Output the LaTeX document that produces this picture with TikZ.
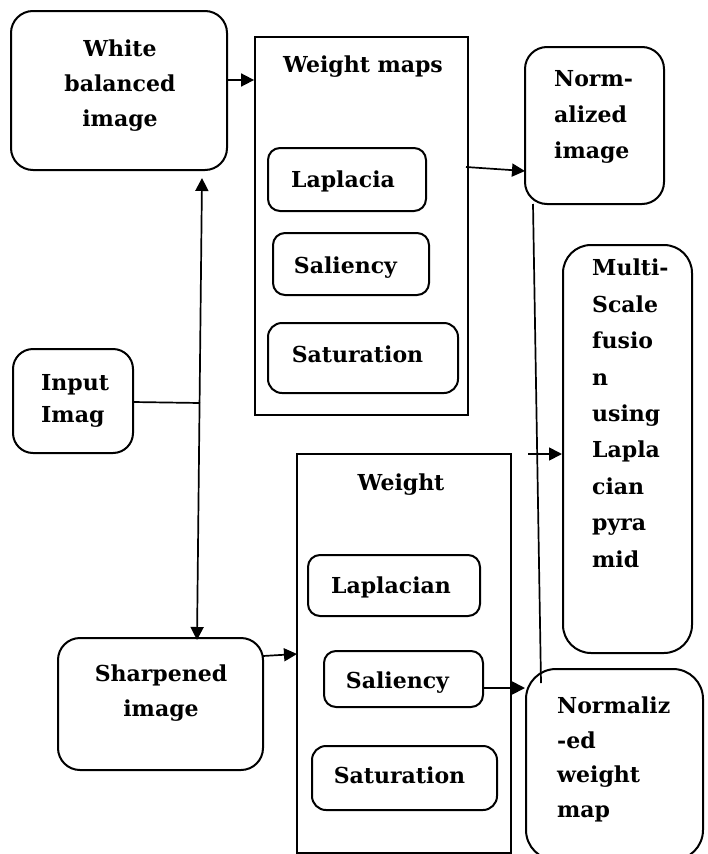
\documentclass[tikz,border=0pt]{standalone}
\usepackage{fontspec}
\setmainfont{DejaVu Serif}
\usetikzlibrary{arrows.meta}
\begin{document}
\begin{tikzpicture}[x=1pt,y=-1pt,
  box/.style={draw, line width=2pt, inner sep=0pt, rounded corners=#1},
  box/.default=22pt,
  frame/.style={draw, line width=1.8pt, inner sep=0pt},
  txt/.style={inner sep=0pt, font=\fontsize{22}{35}\selectfont\bfseries},
  conn/.style={line width=1.7pt},
  tip/.tip={Triangle[length=13pt,width=13pt]},
  arr/.style={conn, -tip},
]
\useasboundingbox (0,0) rectangle (708,854);

% boxes
\node[box, minimum width=216pt, minimum height=159pt] (wb) at (119,90.5) {};
\node[frame, minimum width=213pt, minimum height=378pt] (wm) at (361.5,226) {};
\node[box=12pt, minimum width=158pt, minimum height=63pt] (lap1) at (347,179.5) {};
\node[box=12pt, minimum width=156pt, minimum height=62pt] (sal1) at (351,264) {};
\node[box=14pt, minimum width=190pt, minimum height=70pt] (sat1) at (363,358) {};
\node[box, minimum width=139pt, minimum height=157pt] (ni) at (594.5,125.5) {};
\node[box=28pt, minimum width=129pt, minimum height=408pt] (ms) at (627.5,449) {};
\node[box=20pt, minimum width=120pt, minimum height=104pt] (in) at (73,401) {};
\node[box, minimum width=205pt, minimum height=132pt] (sh) at (160.5,704) {};
\node[frame, minimum width=214pt, minimum height=399pt] (w2) at (404,653.5) {};
\node[box=12pt, minimum width=172pt, minimum height=61pt] (lap2) at (394,585.5) {};
\node[box=12pt, minimum width=159pt, minimum height=56pt] (sal2) at (403.5,679) {};
\node[box=14pt, minimum width=185pt, minimum height=64pt] (sat2) at (404.5,778) {};
\node[box=30pt, minimum width=177pt, minimum height=191pt] (nwm) at (614.5,764.5) {};

% texts
\node[txt, anchor=north, align=center] (wbt) at (120,40) {White\\balanced\\image};
\node[txt, anchor=base] (wmt) at (363,72) {Weight maps};
\node[txt, anchor=base] (l1t) at (343,187) {Laplacia};
\node[txt, anchor=base] (s1t) at (345.5,273) {Saliency};
\node[txt, anchor=base] (t1t) at (357.5,362) {Saturation};
\node[txt, anchor=north west, align=left, font=\fontsize{22}{36}\selectfont\bfseries] (nit) at (554,70) {Norm-\\alized\\image};
\node[txt, anchor=north west, align=left, font=\fontsize{22}{36.4}\selectfont\bfseries] (mst) at (592,259) {Multi-\\Scale\\fusio\\n\\using\\Lapla\\cian\\pyra\\mid};
\node[txt, anchor=north west, align=left, font=\fontsize{22}{32}\selectfont\bfseries] (int) at (41,374) {Input\\Imag};
\node[txt, anchor=north, align=center] (sht) at (161,665) {Sharpened\\image};
\node[txt, anchor=base] (w2t) at (401,490) {Weight};
\node[txt, anchor=base] (l2t) at (391,593) {Laplacian};
\node[txt, anchor=base] (s2t) at (397.5,688) {Saliency};
\node[txt, anchor=base] (t2t) at (399.5,783) {Saturation};
\node[txt, anchor=north west, align=left, font=\fontsize{22}{34.5}\selectfont\bfseries] (nwt) at (557,697) {Normaliz\\-ed\\weight\\map};

% connector end points
\coordinate (a1) at (227,80);
\coordinate (b1) at (466,167);
\coordinate (b2) at (525,171);
\coordinate (c1) at (533,204);
\coordinate (c2) at (541,683);
\coordinate (d1) at (528,454);
\coordinate (e1) at (133,402);
\coordinate (j) at (200,403);
\coordinate (vt) at (202,178);
\coordinate (vb) at (197,640);
\coordinate (f1) at (263,656);
\coordinate (f2) at (297,654);
\coordinate (g1) at (483,688);

% connectors
\draw[arr] (a1) -- (wm.west |- a1);
\draw[arr] (b1) -- (b2);
\draw[conn] (c1) -- (c2);
\draw[arr] (d1) -- (ms.west |- d1);
\draw[conn] (e1) -- (j);
\draw[conn, tip-tip] (vt) -- (vb);
\draw[arr] (f1) -- (f2);
\draw[arr] (g1) -- (nwm.west |- g1);
\end{tikzpicture}
\end{document}
